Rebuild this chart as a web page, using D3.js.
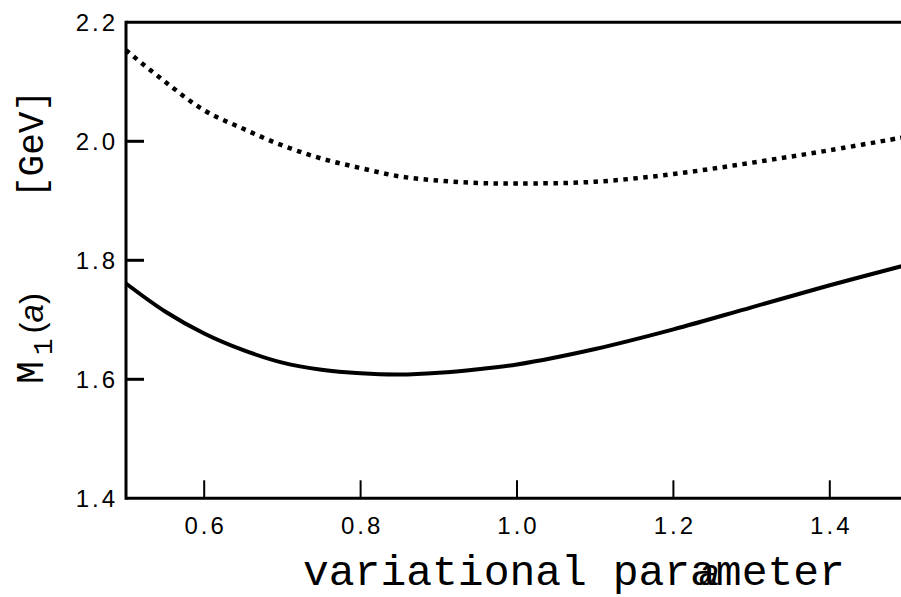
<!DOCTYPE html>
<html>
<head>
<meta charset="utf-8">
<script src="https://cdn.jsdelivr.net/npm/d3@7"></script>
<style>
  body { margin: 0; background: #fff; }
</style>
</head>
<body>
<svg id="chart"></svg>
<script>
// values
const aValues = [0.5, 0.55, 0.6, 0.65, 0.7, 0.75, 0.8, 0.85, 0.9, 0.95, 1.0, 1.1, 1.2, 1.3, 1.4, 1.5];
const solidM1 = [1.761, 1.714, 1.677, 1.649, 1.628, 1.616, 1.610, 1.608, 1.611, 1.617, 1.625, 1.651, 1.684, 1.721, 1.758, 1.793];
const dottedM1 = [2.153, 2.100, 2.052, 2.021, 1.993, 1.971, 1.955, 1.941, 1.934, 1.930, 1.929, 1.932, 1.945, 1.964, 1.985, 2.008];
const xTicks = [0.6, 0.8, 1.0, 1.2, 1.4];
const yTicks = [1.4, 1.6, 1.8, 2.0, 2.2];

const width = 901;
const height = 597;
const plotLeft = 126, plotRight = 908, plotTop = 22.3, plotBottom = 498.3;

const sansFont = "'Liberation Sans', Arial, sans-serif";
const monoFont = "'Courier New', Courier, 'Nimbus Mono PS', FreeMono, 'Liberation Mono', monospace";

const svg = d3.select("#chart")
    .attr("width", width)
    .attr("height", height)
    .attr("viewBox", [0, 0, width, height]);

const x = d3.scaleLinear().domain([0.5, 1.5]).range([plotLeft, plotRight]);
const y = d3.scaleLinear().domain([1.4, 2.2]).range([plotBottom, plotTop]);

// --- curves ---
const line = d3.line()
    .x(d => x(d[0]))
    .y(d => y(d[1]))
    .curve(d3.curveCatmullRom);

svg.append("path")
    .datum(aValues.map((a, i) => [a, dottedM1[i]]))
    .attr("d", line)
    .attr("fill", "none")
    .attr("stroke", "#000")
    .attr("stroke-width", 4.5)
    .attr("stroke-dasharray", "4.5,5.5");

svg.append("path")
    .datum(aValues.map((a, i) => [a, solidM1[i]]))
    .attr("d", line)
    .attr("fill", "none")
    .attr("stroke", "#000")
    .attr("stroke-width", 4);

// --- frame ---
const frame = svg.append("g").attr("stroke", "#000").attr("stroke-width", 3);
frame.append("line").attr("x1", plotLeft).attr("x2", plotLeft).attr("y1", plotTop - 1.5).attr("y2", plotBottom + 1.5);
frame.append("line").attr("x1", plotLeft).attr("x2", plotRight).attr("y1", plotTop).attr("y2", plotTop);
frame.append("line").attr("x1", plotLeft).attr("x2", plotRight).attr("y1", plotBottom).attr("y2", plotBottom);

// y ticks (inside)
svg.append("g").selectAll("line")
    .data(yTicks.slice(1, -1))
    .join("line")
    .attr("x1", plotLeft).attr("x2", plotLeft + 18)
    .attr("y1", d => y(d)).attr("y2", d => y(d))
    .attr("stroke", "#000").attr("stroke-width", 3);

svg.append("g").selectAll("text")
    .data(yTicks)
    .join("text")
    .attr("font-family", sansFont)
    .attr("font-size", 24)
    .attr("letter-spacing", 3)
    .attr("x", 118)
    .attr("y", d => y(d))
    .attr("dy", "0.36em")
    .attr("text-anchor", "end")
    .text(d => d.toFixed(1));

// x ticks (inside)
svg.append("g").selectAll("line")
    .data(xTicks)
    .join("line")
    .attr("x1", d => x(d)).attr("x2", d => x(d))
    .attr("y1", plotBottom).attr("y2", plotBottom - 18)
    .attr("stroke", "#000").attr("stroke-width", 2);

svg.append("g").selectAll("text")
    .data(xTicks)
    .join("text")
    .attr("font-family", sansFont)
    .attr("font-size", 24)
    .attr("letter-spacing", 3)
    .attr("x", d => x(d) + 1.5)
    .attr("y", 534)
    .attr("text-anchor", "middle")
    .text(d => d.toFixed(1));

// --- axis titles ---
svg.append("text")
    .attr("font-family", monoFont)
    .attr("x", 303)
    .attr("y", 585)
    .attr("font-size", 43)
    .text("variational parameter");

svg.append("text")
    .attr("x", 699)
    .attr("y", 585)
    .attr("font-family", sansFont)
    .attr("font-style", "italic")
    .attr("font-size", 36)
    .text("a");

const yTitle = svg.append("text")
    .attr("transform", "translate(43, 384) rotate(-90)")
    .attr("font-size", 38);
yTitle.append("tspan").attr("font-family", monoFont).text("M");
yTitle.append("tspan").attr("font-family", monoFont).attr("font-size", 28).attr("dx", 6).attr("dy", 9).text("1");
yTitle.append("tspan").attr("font-family", sansFont).attr("font-size", 33).attr("dx", 5).attr("dy", -9).text("(");
yTitle.append("tspan").attr("font-family", sansFont).attr("font-size", 33).attr("font-style", "italic").text("a");
yTitle.append("tspan").attr("font-family", sansFont).attr("font-size", 33).text(")");

svg.append("text")
    .attr("transform", "translate(43, 198) rotate(-90)")
    .attr("font-family", monoFont)
    .attr("font-size", 36)
    .text("[GeV]");
</script>
</body>
</html>
